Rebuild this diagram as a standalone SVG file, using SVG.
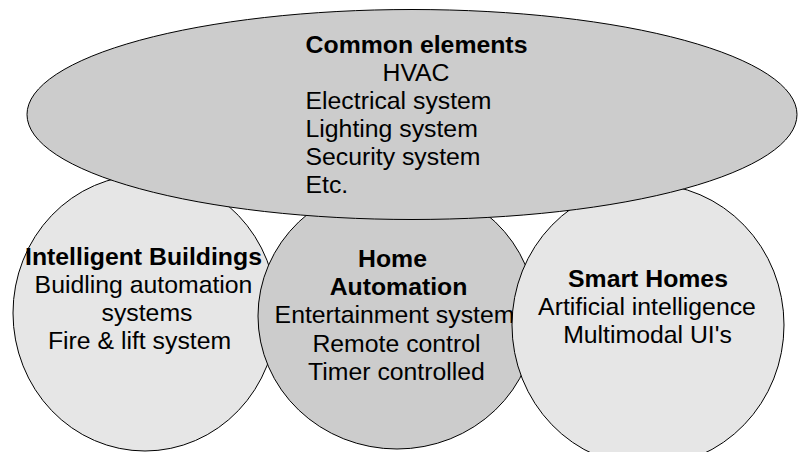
<svg xmlns="http://www.w3.org/2000/svg" width="798" height="452" viewBox="0 0 798 452">
<style>
.shape{stroke:#000;stroke-width:1}
.light{fill:#e6e6e6}
.dark{fill:#cccccc}
text{font-family:"Liberation Sans",Arial,sans-serif;font-size:24.8px;fill:#000}
.b{font-weight:bold}
.c{text-anchor:middle}
</style>
<rect width="798" height="452" fill="#fff"/>
<g id="intelligent-buildings">
<ellipse class="shape light" cx="145" cy="313" rx="132" ry="138"/>
<text class="b c" x="143.5" y="265">Intelligent Buildings</text>
<text class="c" x="143.5" y="293">Buidling automation</text>
<text class="c" x="147" y="321">systems</text>
<text class="c" x="139.5" y="349">Fire &amp; lift system</text>
</g>
<g id="home-automation">
<ellipse class="shape dark" cx="397" cy="316" rx="139" ry="133"/>
<text class="b c" x="392.5" y="267">Home</text>
<text class="b c" x="398.5" y="295">Automation</text>
<text class="c" x="394.5" y="323">Entertainment system</text>
<text class="c" x="396.5" y="352">Remote control</text>
<text class="c" x="396.5" y="380">Timer controlled</text>
</g>
<g id="smart-homes">
<ellipse class="shape light" cx="648" cy="325" rx="136" ry="141"/>
<text class="b c" x="648" y="287">Smart Homes</text>
<text class="c" x="647" y="315">Artificial intelligence</text>
<text class="c" x="647.5" y="343">Multimodal UI's</text>
</g>
<g id="common-elements">
<ellipse class="shape dark" cx="412" cy="114.5" rx="385" ry="105"/>
<text class="b c" x="416.5" y="53">Common elements</text>
<text class="c" x="416" y="81">HVAC</text>
<text x="305.5" y="109">Electrical system</text>
<text x="305.5" y="137">Lighting system</text>
<text x="305.5" y="165">Security system</text>
<text x="305.5" y="193">Etc.</text>
</g>
</svg>
